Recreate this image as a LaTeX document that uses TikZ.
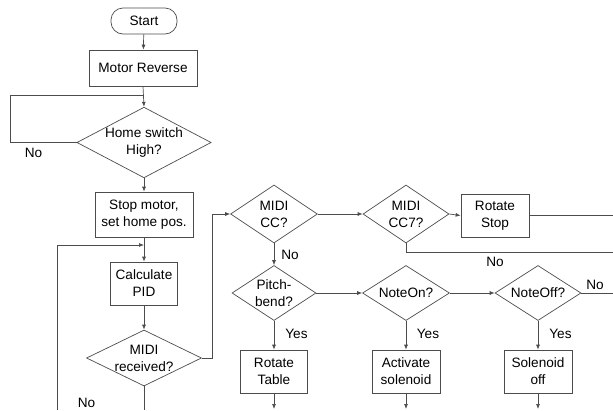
\documentclass[tikz,border=0pt]{standalone}
\usepackage{fontspec}
\setmainfont{Liberation Sans}
\usetikzlibrary{shapes.geometric,arrows.meta}
\begin{document}
\begin{tikzpicture}[x=1pt,y=-1pt,
  every node/.style={font=\fontsize{13.6}{17}\selectfont, text=black},
  ln/.style={draw=black!70, line width=0.7pt},
  arr/.style={ln, -{Latex[length=5pt,width=4pt]}},
  box/.style={rectangle, draw=black!70, line width=0.7pt, inner sep=0pt, align=center},
  dia/.style={diamond, draw=black!70, line width=0.7pt, inner sep=0pt, align=center},
  lbl/.style={inner sep=0pt}
]
\useasboundingbox (0,0) rectangle (613,410);

% main column
\node[box, rounded corners=12pt, minimum width=66, minimum height=26] (start) at (144,21) {Start};
\node[box, minimum width=108, minimum height=36] (motor) at (143,68) {Motor Reverse};
\node[dia, minimum width=131, minimum height=69, aspect=1.9] (home) at (144,142.5) {Home switch\\High?};
\node[box, minimum width=98, minimum height=45] (stop) at (144,214.5) {Stop motor,\\set home pos.};
\node[box, minimum width=67, minimum height=43] (calc) at (144,283.5) {Calculate\\PID};
\node[dia, minimum width=115, minimum height=56, aspect=2.05] (midi) at (144,358) {MIDI\\received?};

% right part
\node[dia, minimum width=87, minimum height=58, aspect=1.5] (cc) at (274,214) {MIDI\\CC?};
\node[dia, minimum width=86, minimum height=58, aspect=1.48] (cc7) at (406,214) {MIDI\\CC7?};
\node[box, minimum width=68, minimum height=43] (rstop) at (495,215.5) {Rotate\\Stop};
\node[dia, minimum width=84, minimum height=55, aspect=1.53] (pb) at (274,293) {Pitch-\\bend?};
\node[dia, minimum width=87, minimum height=55, aspect=1.58] (non) at (406,293) {NoteOn?};
\node[dia, minimum width=86, minimum height=55, aspect=1.56] (noff) at (538,293) {NoteOff?};
\node[box, minimum width=67, minimum height=43] (rtab) at (274,371.5) {Rotate\\Table};
\node[box, minimum width=68, minimum height=43] (act) at (406,371.5) {Activate\\solenoid};
\node[box, minimum width=68, minimum height=43] (soff) at (538,371.5) {Solenoid\\off};

% labels
\node[lbl] (no1) at (33.5,152.5) {No};
\node[lbl] (no2) at (86.5,402.5) {No};
\node[lbl] (no3) at (290,254.5) {No};
\node[lbl] (no4) at (495,262) {No};
\node[lbl] (no5) at (595,284.5) {No};
\node[lbl] (yes1) at (296.5,333.5) {Yes};
\node[lbl] (yes2) at (428,333.5) {Yes};
\node[lbl] (yes3) at (560.5,333.5) {Yes};

% free ends
\coordinate (hj) at (144,95);
\coordinate (lb) at (57,410);
\coordinate (lj) at (144,245);
\coordinate (rse) at (613,215.5);
\coordinate (cc7e) at (613,252.5);
\coordinate (noffe) at (613,293);
\coordinate (mb) at (144,410);
\coordinate (rtb) at (274,409);
\coordinate (actb) at (406,409);
\coordinate (soffb) at (538,409);

% connectors
\draw[arr] (start) -- (motor);
\draw[arr] (motor.south) -- (home.north);
\draw[ln] (home.west) -- ++(-66,0) |- (hj);
\draw[arr] (home.south) -- (stop.north);
\draw[arr] (stop.south) -- (calc.north);
\draw[arr] (lb) |- (lj);
\draw[arr] (calc.south) -- (midi.north);
\draw[ln] (midi.south) -- (mb);
\draw[arr] (midi.east) -- ++(10,0) |- (cc.west);
\draw[arr] (cc.east) -- (cc7.west);
\draw[arr] (cc7.east) -- (rstop.west);
\draw[ln] (rstop.east) -- (rse);
\draw[ln] (cc7.south) |- (cc7e);
\draw[arr] (cc.south) -- (pb.north);
\draw[arr] (pb.east) -- (non.west);
\draw[arr] (non.east) -- (noff.west);
\draw[ln] (noff.east) -- (noffe);
\draw[arr] (pb.south) -- (rtab.north);
\draw[arr] (non.south) -- (act.north);
\draw[arr] (noff.south) -- (soff.north);
\draw[arr] (rtab.south) -- (rtb);
\draw[arr] (act.south) -- (actb);
\draw[arr] (soff.south) -- (soffb);
\end{tikzpicture}
\end{document}
